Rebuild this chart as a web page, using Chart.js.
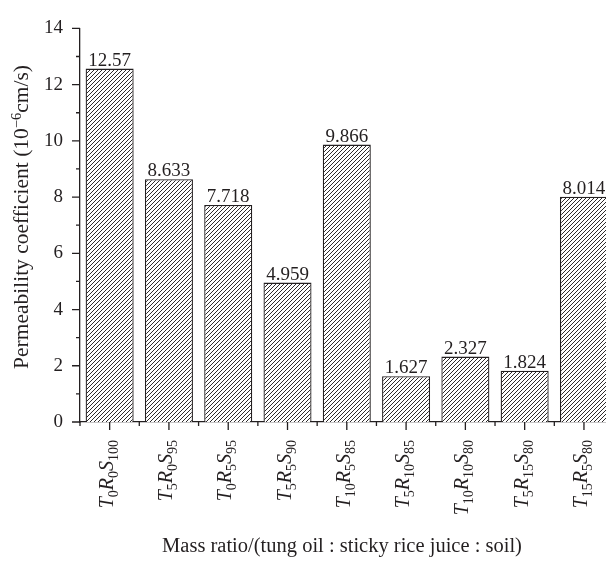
<!DOCTYPE html>
<html>
<head>
<meta charset="utf-8">
<script src="https://cdn.jsdelivr.net/npm/chart.js@4.4.0/dist/chart.umd.min.js"></script>
<style>
  html, body { margin: 0; padding: 0; background: #fff; overflow: hidden; }
  .chart-wrap { position: relative; width: 624px; height: 561px; }
</style>
</head>
<body>
<div class="chart-wrap"><canvas class="chart-bar"></canvas></div>
<script>
// subscripts of the mass ratio labels T(tung oil) R(rice juice) S(soil)
const tungOil = [0, 5, 0, 5, 10, 5, 10, 5, 15];
const riceJuice = [0, 0, 5, 5, 5, 10, 10, 15, 5];
const soil = [100, 95, 95, 90, 85, 85, 80, 80, 80];
const categories = tungOil.map((t, i) => "T" + t + "R" + riceJuice[i] + "S" + soil[i]);
const permeability = [12.57, 8.633, 7.718, 4.959, 9.866, 1.627, 2.327, 1.824, 8.014];
const yTicks = [0, 2, 4, 6, 8, 10, 12, 14];

const ink = "#231f20";
const serif = "'Liberation Serif', 'DejaVu Serif', serif";

const chart1 = document.querySelector(".chart-bar");
var ctx = chart1.getContext("2d");

function hatchPattern() {
  const c = document.createElement("canvas");
  c.width = 4;
  c.height = 4;
  const g = c.getContext("2d");
  g.fillStyle = "#fff";
  g.fillRect(0, 0, 4, 4);
  g.strokeStyle = ink;
  g.lineWidth = 0.95;
  g.beginPath();
  g.moveTo(-1, 5); g.lineTo(5, -1);
  g.moveTo(-1, 1); g.lineTo(1, -1);
  g.moveTo(3, 5); g.lineTo(5, 3);
  g.stroke();
  return ctx.createPattern(c, "repeat");
}

// draws a run of [text, italic, sub/sup offset, size] pieces starting at x
function drawPieces(c, pieces, x, y) {
  pieces.forEach((p) => {
    c.font = (p[1] ? "italic " : "") + p[3] + "px " + serif;
    c.fillText(p[0], x, y + p[2]);
    x += c.measureText(p[0]).width;
  });
}
function piecesWidth(c, pieces) {
  let w = 0;
  pieces.forEach((p) => {
    c.font = (p[1] ? "italic " : "") + p[3] + "px " + serif;
    w += c.measureText(p[0]).width;
  });
  return w;
}

const decorations = {
  id: "decorations",
  afterDatasetsDraw(chart) {
    const c = chart.ctx;
    c.save();
    c.fillStyle = ink;
    c.font = "19px " + serif;
    c.textAlign = "center";
    c.textBaseline = "alphabetic";
    chart.getDatasetMeta(0).data.forEach((bar, i) => {
      c.fillText(permeability[i].toPrecision(4), bar.x, bar.y - 3);
    });
    c.restore();
  },
  afterDraw(chart) {
    const c = chart.ctx;
    const a = chart.chartArea;
    const x = chart.scales.x;
    const y = chart.scales.y;
    c.save();
    c.strokeStyle = ink;
    c.lineWidth = 1.3;
    c.beginPath();
    // y ticks: major at labels, minor halfway
    yTicks.forEach((v, i) => {
      const py = y.getPixelForValue(v);
      c.moveTo(a.left - 8, py); c.lineTo(a.left, py);
      if (i < yTicks.length - 1) {
        const pm = y.getPixelForValue((v + yTicks[i + 1]) / 2);
        c.moveTo(a.left - 4, pm); c.lineTo(a.left, pm);
      }
    });
    // x ticks: major at category centres, minor at boundaries
    const step = (a.right - a.left) / categories.length;
    categories.forEach((cat, i) => {
      const px = x.getPixelForValue(i);
      c.moveTo(px, a.bottom); c.lineTo(px, a.bottom + 8);
      c.moveTo(px - step / 2, a.bottom); c.lineTo(px - step / 2, a.bottom + 4);
    });
    c.stroke();

    // rotated category labels with subscripts
    c.fillStyle = ink;
    c.textAlign = "left";
    c.textBaseline = "alphabetic";
    categories.forEach((cat, i) => {
      const px = x.getPixelForValue(i);
      const pieces = [
        ["T", true, 0, 20], [String(tungOil[i]), false, 5, 14],
        ["R", true, 0, 20], [String(riceJuice[i]), false, 5, 14],
        ["S", true, 0, 20], [String(soil[i]), false, 5, 14]
      ];
      const w = piecesWidth(c, pieces);
      c.save();
      c.translate(px + 3, a.bottom + 18);
      c.rotate(-Math.PI / 2);
      drawPieces(c, pieces, -w, 0);
      c.restore();
    });

    // x title
    c.font = "20.5px " + serif;
    c.textAlign = "center";
    c.fillText("Mass ratio/(tung oil : sticky rice juice : soil)", 342, 552);

    // y title with superscript
    c.textAlign = "left";
    const yt = [
      ["Permeability coefficient (10", false, 0, 21.5],
      ["\u22126", false, -7, 14.5],
      ["cm/s)", false, 0, 21.5]
    ];
    const tw = piecesWidth(c, yt);
    c.save();
    c.translate(28, 217);
    c.rotate(-Math.PI / 2);
    drawPieces(c, yt, -tw / 2, 0);
    c.restore();
    c.restore();
  }
};

var myChart = new Chart(ctx, {
  type: "bar",
  data: {
    labels: categories,
    datasets: [
      {
        label: "Permeability coefficient",
        data: permeability,
        backgroundColor: hatchPattern(),
        borderColor: ink,
        borderWidth: 1.3,
        barPercentage: 0.81,
        categoryPercentage: 1,
      },
    ],
  },
  options: {
    responsive: true,
    maintainAspectRatio: false,
    animation: false,
    layout: { padding: { top: 15, right: 10.4, left: 0, bottom: 0 } },
    plugins: {
      legend: { display: false },
      tooltip: { enabled: false },
    },
    scales: {
      x: {
        grid: { display: false, drawTicks: false },
        border: { display: true, color: ink, width: 1.3 },
        ticks: { display: false },
        afterFit(s) { s.height = 139; },
      },
      y: {
        min: 0,
        max: 14,
        afterBuildTicks(s) { s.ticks = yTicks.map((v) => ({ value: v })); },
        grid: { display: false, drawTicks: false },
        border: { display: true, color: ink, width: 1.3 },
        ticks: { padding: 17, color: ink, font: { family: serif, size: 19 } },
        afterFit(s) { s.width = 80; },
      },
    },
  },
  plugins: [decorations],
});
</script>
</body>
</html>
